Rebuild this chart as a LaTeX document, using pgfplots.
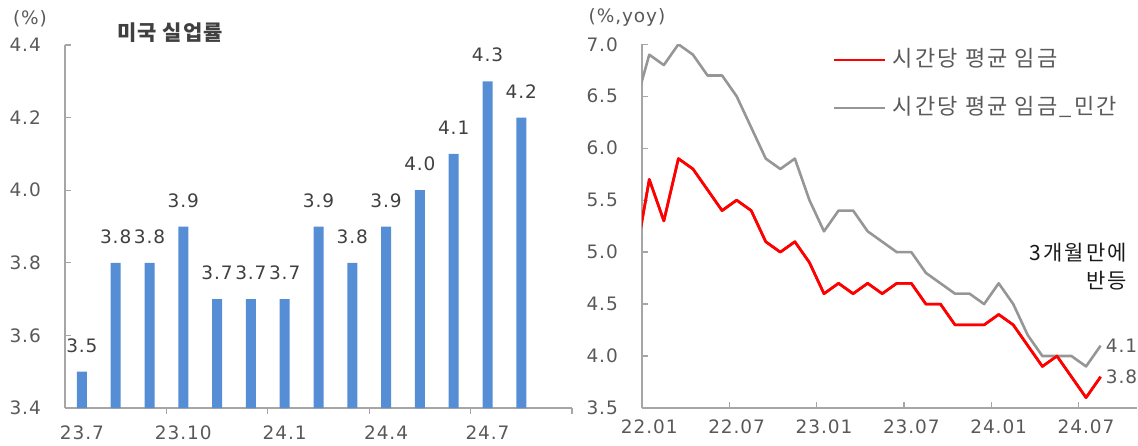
\documentclass[border=0pt]{standalone}
\usepackage{pgfplots}
\pgfplotsset{compat=1.18}
\usepackage{pgfplotstable}
\usepackage{fontspec}
\setmainfont{Noto Sans CJK KR}
\newfontfamily\numfont[LetterSpace=5]{DejaVu Sans}
\newfontfamily\krfont[LetterSpace=5]{Noto Sans CJK KR}
\newfontfamily\krwide[LetterSpace=10]{Noto Sans CJK KR}
\newcommand{\tickfont}{\numfont\fontsize{18.5pt}{21pt}\selectfont}
\newcommand{\kfont}{\krwide\fontsize{22pt}{25pt}\selectfont}
\newcommand{\afont}{\krwide\fontsize{21pt}{24pt}\selectfont}
\definecolor{barblue}{HTML}{558ED5}
\definecolor{tickgray}{HTML}{595959}
\definecolor{axgray}{HTML}{A6A6A6}
\definecolor{linegray}{HTML}{969696}
\definecolor{labgray}{HTML}{404040}

\pgfplotstableread{
x y
0 3.5
1 3.8
2 3.8
3 3.9
4 3.7
5 3.7
6 3.7
7 3.9
8 3.8
9 3.9
10 4.0
11 4.1
12 4.3
13 4.2
}\unemp

\pgfplotstableread{
x red gray
-1 4.9 6.4
0 5.7 6.9
1 5.3 6.8
2 5.9 7.0
3 5.8 6.9
4 5.6 6.7
5 5.4 6.7
6 5.5 6.5
7 5.4 6.2
8 5.1 5.9
9 5.0 5.8
10 5.1 5.9
11 4.9 5.5
12 4.6 5.2
13 4.7 5.4
14 4.6 5.4
15 4.7 5.2
16 4.6 5.1
17 4.7 5.0
18 4.7 5.0
19 4.5 4.8
20 4.5 4.7
21 4.3 4.6
22 4.3 4.6
23 4.3 4.5
24 4.4 4.7
25 4.3 4.5
26 4.1 4.2
27 3.9 4.0
28 4.0 4.0
29 3.8 4.0
30 3.6 3.9
31 3.8 4.1
}\wage

\pgfplotsset{
  common/.style={
    scale only axis,
    anchor=south west,
    axis x line*=bottom, axis y line*=left,
    axis line style={axgray, line width=1.3pt},
    tick align=inside, major tick length=6pt, minor tick length=6pt,
    tick style={axgray, line width=1.3pt},
    major x tick style={draw=none},
    /pgf/number format/.cd, fixed, fixed zerofill, precision=1, assume math mode=true, /pgfplots/.cd,
    ticklabel style={font=\tickfont, text=tickgray},
    xticklabel style={anchor=north, inner sep=0pt, yshift=-12pt},
    yticklabel style={anchor=east, inner sep=0pt, xshift=-24pt},
  }
}

\begin{document}
\begin{tikzpicture}
\useasboundingbox (0pt,0pt) rectangle (1138pt,445pt);

% ---------- left: unemployment ----------
\begin{axis}[common,
  at={(65pt,37pt)}, width=507pt, height=363pt,
  xmin=-0.5, xmax=14.5, ymin=3.4, ymax=4.4,
  xtick={0,3,6,9,12}, xticklabels={23.7,23.10,24.1,24.4,24.7},
  minor xtick={2.5,5.5,8.5,11.5,14.5},
  ytick={3.4,3.6,3.8,4.0,4.2,4.4},
  ybar, bar width=10pt,
  nodes near coords,
  every node near coord/.append style={font=\tickfont, text=labgray, anchor=south, inner sep=0pt, yshift=19pt},
]
\addplot[fill=barblue, draw=none] table[x=x,y=y]{\unemp};
\end{axis}

% ---------- right: wages ----------
\begin{axis}[common,
  at={(642pt,37pt)}, width=495pt, height=363.7pt,
  xmin=-0.5, xmax=33.5, ymin=3.5, ymax=7,
  xtick={0,6,12,18,24,30}, xticklabels={22.01,22.07,23.01,23.07,24.01,24.07},
  minor xtick={5.5,11.5,17.5,23.5,29.5},
  ytick={3.5,4,4.5,5,5.5,6,6.5,7},
  legend style={draw=none, fill=none, at={(0.384,0.891)}, anchor=west,
    font=\kfont, text=tickgray, inner sep=0pt, row sep=29pt,
    nodes={inner sep=0pt, text height=16pt, text depth=3pt}},
  legend cell align=left,
  legend image code/.code={\draw[#1] (0pt,0pt) -- (51pt,0pt);},
]
\addplot[red, line width=2.6pt, line join=round] table[x=x,y=red]{\wage};
\addlegendentry{\hspace{7pt}시간당 평균 임금}
\addplot[linegray, line width=2.6pt, line join=round] table[x=x,y=gray]{\wage};
\addlegendentry{\hspace{7pt}시간당 평균 임금\_민간}
\addplot[red, line width=2.6pt, line join=round, forget plot] table[x=x,y=red]{\wage};
\node[anchor=west, font=\tickfont, text=tickgray, inner sep=0pt] at (axis cs:31,4.1) {\hspace{5pt}4.1};
\node[anchor=west, font=\tickfont, text=tickgray, inner sep=0pt] at (axis cs:31,3.8) {\hspace{5pt}3.8};
\end{axis}

% ---------- texts ----------
\node[font=\tickfont, text=tickgray] at (30pt,426.5pt) {(\%)};
\node[font=\tickfont, text=tickgray] at (627pt,427.5pt) {(\%,yoy)};
\node[font=\krfont\bfseries\fontsize{21pt}{24pt}\selectfont, text=labgray] at (170pt,412pt) {미국 실업률};
\node[anchor=east, font=\afont, text=black!90, inner sep=0pt] at (1127pt,192pt) {3개월만에};
\node[anchor=east, font=\afont, text=black!90, inner sep=0pt] at (1127pt,164pt) {반등};
\end{tikzpicture}
\end{document}
